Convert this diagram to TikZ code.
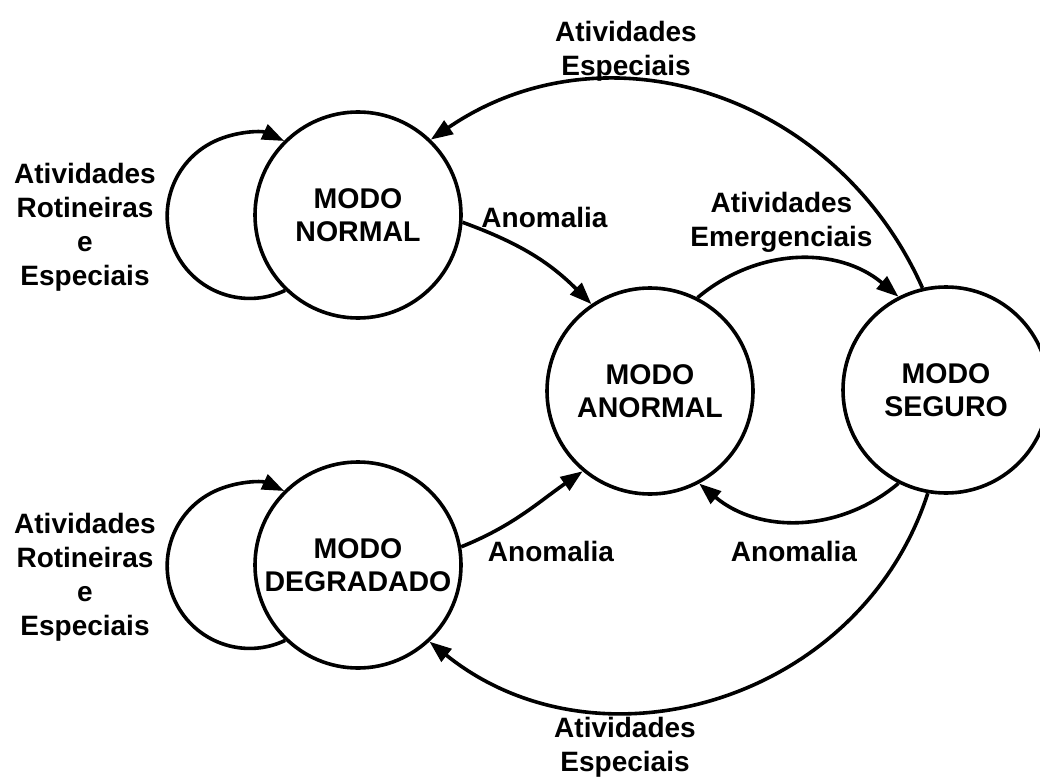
\documentclass[tikz,border=0pt]{standalone}
\usepackage{fontspec}
\setmainfont{Liberation Sans}
\usetikzlibrary{arrows.meta}
\begin{document}
\begin{tikzpicture}[x=1pt,y=1pt,
  state/.style={circle, draw, line width=3.6pt, minimum size=206pt, inner sep=0pt,
    align=center, font=\fontsize{28.5}{33.5}\selectfont\bfseries},
  lbl/.style={align=center, inner sep=0pt, font=\fontsize{28}{34}\selectfont\bfseries},
  conn/.style={line width=3.6pt, -{Triangle[length=22pt,width=16pt]}}]
\fill[white] (0,0) rectangle (1040,-778);
\useasboundingbox (0,0) rectangle (1040,-778);

\node[state] (normal) at (358,-215) {MODO\\NORMAL};
\node[state] (degradado) at (358,-565) {MODO\\DEGRADADO};
\node[state] (anormal) at (650,-391) {MODO\\ANORMAL};
\node[state] (seguro) at (946,-390) {MODO\\SEGURO};

\node[lbl] (lblnormal) at (85,-226.8) {Atividades\\Rotineiras\\e\\Especiais};
\node[lbl] (lbldegr) at (85,-576.8) {Atividades\\Rotineiras\\e\\Especiais};
\node[lbl] (lbltop) at (626,-51.5) {Atividades\\Especiais};
\node[lbl] (lblbot) at (625,-747.5) {Atividades\\Especiais};
\node[lbl] (lblemerg) at (781.5,-222.5) {Atividades\\Emergenciais};
\node[lbl, anchor=base] (anom1) at (544.5,-227) {Anomalia};
\node[lbl, anchor=base] (anom2) at (551,-561) {Anomalia};
\node[lbl, anchor=base] (anom3) at (794,-561) {Anomalia};

\draw[conn] (normal.226) arc[start angle=-64.5, end angle=-294.7, radius=82.5];
\draw[conn] (degradado.226) arc[start angle=-64.5, end angle=-294.7, radius=82.5];
\draw[conn] (normal.-4.6) to[out=-20, in=135] (anormal.124.4);
\draw[conn] (degradado.10) to[out=22, in=215] (anormal.230.6);
\draw[conn] (anormal.63.4) to[out=40, in=140] (seguro.117.8);
\draw[conn] (seguro.-117) to[out=-140, in=-40] (anormal.-62.5);
\draw[conn] (seguro.103) .. controls +(114:214) and +(34.4:211) .. (normal.46);
\draw[conn] (seguro.-100) .. controls +(-107.9:218) and +(-38.8:218) .. (degradado.-47.7);
\end{tikzpicture}
\end{document}
